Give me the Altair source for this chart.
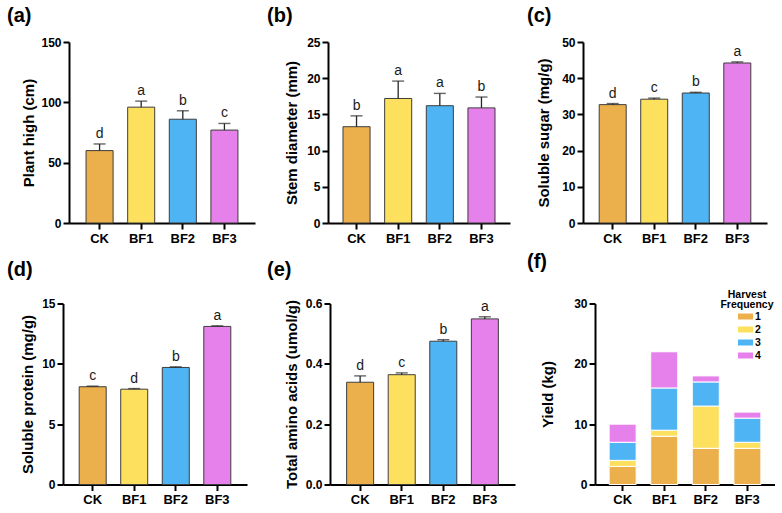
import altair as alt
import pandas as pd

FONT = "Liberation Sans"

groups = ["CK", "BF1", "BF2", "BF3"]
colors = ["#EBB04B", "#FDE05D", "#4FB4F3", "#E680EA"]

plant_high = [60.0, 96.0, 86.0, 77.0]
plant_high_err = [5.5, 5.0, 7.0, 5.5]
plant_high_sig = ["d", "a", "b", "c"]

stem_diameter = [13.3, 17.2, 16.2, 15.9]
stem_diameter_err = [1.5, 2.4, 1.7, 1.5]
stem_diameter_sig = ["b", "a", "a", "b"]

soluble_sugar = [32.7, 34.2, 35.9, 44.2]
soluble_sugar_err = [0.3, 0.3, 0.2, 0.3]
soluble_sugar_sig = ["d", "c", "b", "a"]

soluble_protein = [8.1, 7.9, 9.7, 13.1]
soluble_protein_err = [0.05, 0.05, 0.05, 0.05]
soluble_protein_sig = ["c", "d", "b", "a"]

amino_acids = [0.339, 0.364, 0.475, 0.549]
amino_acids_err = [0.021, 0.006, 0.005, 0.007]
amino_acids_sig = ["d", "c", "b", "a"]

harvest_levels = ["1", "2", "3", "4"]
harvest_title = ["Harvest", "Frequency"]
yield_h1 = [3, 8, 6, 6]
yield_h2 = [1, 1, 7, 1]
yield_h3 = [3, 7, 4, 4]
yield_h4 = [3, 6, 1, 1]

color_scale = alt.Scale(domain=groups, range=colors)


def xenc(po, rng):
    return alt.X(
        "Group:N",
        sort=groups,
        scale=alt.Scale(paddingInner=0.35, paddingOuter=po, range=rng),
        axis=alt.Axis(title=None, labelAngle=0, tickSize=6, labelPadding=3,
                      labelFontSize=13, labelFontWeight="bold", labelFont=FONT,
                      domainWidth=2, tickWidth=2, domainColor="black", tickColor="black",
                      labelColor="black"),
    )


def yaxis(title, ticks, title_x, off, fmt=None):
    kw = dict(title=title, values=ticks, grid=False, tickSize=6, labelPadding=2,
              labelFontSize=12, labelFontWeight="bold", labelFont=FONT, labelColor="black",
              titleFontSize=15, titleFontWeight="bold", titleFont=FONT, titleColor="black",
              domainWidth=2, tickWidth=2, domainColor="black", tickColor="black",
              titleX=title_x, titleBaseline="middle", labelOverlap=False, offset=off)
    if fmt:
        kw["format"] = fmt
    return alt.Axis(**kw)


def panel_title(label, dx, toff):
    return alt.TitleParams(text=label, anchor="start", frame="group", dx=dx,
                           fontSize=20, fontWeight="bold", font=FONT,
                           baseline="bottom", offset=toff, color="black")


def bar_panel(values, errs, sig, title, domain, ticks, width, rng, po, label, dx,
              title_x, toff, fmt=None):
    df = pd.DataFrame({
        "Group": groups,
        "Value": values,
        "Upper": [v + e for v, e in zip(values, errs)],
        "Sig": sig,
    })
    yscale = alt.Scale(domain=domain, nice=False, zero=True)
    ax = yaxis(title, ticks, title_x, -rng[0], fmt)
    x = xenc(po, rng)
    base = alt.Chart(df)
    bars = base.mark_bar(stroke="#3d3d3d", strokeWidth=1).encode(
        x=x,
        y=alt.Y("Value:Q", scale=yscale, axis=ax),
        color=alt.Color("Group:N", scale=color_scale, legend=None),
    )
    stem = base.mark_rule(color="#262626", strokeWidth=1.3).encode(
        x=x, y=alt.Y("Value:Q", scale=yscale, axis=ax), y2="Upper:Q"
    )
    cap = base.mark_tick(color="#262626", thickness=1.4, size=12).encode(
        x=x, y=alt.Y("Upper:Q", scale=yscale, axis=ax)
    )
    txt = base.mark_text(baseline="bottom", dy=-3, fontSize=14, font=FONT,
                         color="#1a1a1a").encode(
        x=x, y=alt.Y("Upper:Q", scale=yscale, axis=ax), text="Sig:N"
    )
    return alt.layer(bars, stem, cap, txt).properties(
        width=width, height=181, title=panel_title(label, dx, toff),
    )


# column origins: 63, 328, 583 (plot left edges of d, b, c)
pa = bar_panel(plant_high, plant_high_err, plant_high_sig, "Plant high (cm)",
               [0, 150], [0, 50, 100, 150], 192, [6, 192], 0.41, "(a)", -56, -41, -10)
pb = bar_panel(stem_diameter, stem_diameter_err, stem_diameter_sig, "Stem diameter (mm)",
               [0, 25], [0, 5, 10, 15, 20, 25], 182, [0, 182], 0.36, "(b)", -61, -37, -10)
pc = bar_panel(soluble_sugar, soluble_sugar_err, soluble_sugar_sig, "Soluble sugar (mg/g)",
               [0, 50], [0, 10, 20, 30, 40, 50], 184, [0, 184], 0.39, "(c)", -56, -39.5, -10)
pd_ = bar_panel(soluble_protein, soluble_protein_err, soluble_protein_sig,
                "Soluble protein (mg/g)", [0, 15], [0, 5, 10, 15], 184, [0, 184], 0.39,
                "(d)", -56, -35.5, -2)
pe = bar_panel(amino_acids, amino_acids_err, amino_acids_sig, "Total amino acids (umol/g)",
               [0, 0.6], [0, 0.2, 0.4, 0.6], 182, [2, 187], 0.40, "(e)", -61, -39, -2,
               fmt=".1f")

# stacked yield panel
rows = []
for i, g in enumerate(groups):
    for h, vals in zip(harvest_levels, [yield_h1, yield_h2, yield_h3, yield_h4]):
        rows.append({"Group": g, "Harvest": h, "Yield": vals[i]})
ydf = pd.DataFrame(rows)

stack = alt.Chart(ydf).mark_bar(stroke="white", strokeWidth=1).encode(
    x=xenc(0.34, [12, 192]),
    y=alt.Y("Yield:Q", stack="zero", scale=alt.Scale(domain=[0, 30], nice=False),
            axis=yaxis("Yield (kg)", [0, 10, 20, 30], -47.5, -12)),
    color=alt.Color("Harvest:N", scale=alt.Scale(domain=harvest_levels, range=colors),
                    legend=alt.Legend(
                        title=None, orient="none",
                        legendX=155, legendY=5.5, padding=0,
                        labelFontSize=10.5, labelFontWeight="bold", labelFont=FONT,
                        labelColor="black", labelOffset=2,
                        symbolType="M-1,-0.4H1V0.4H-1Z", symbolSize=225,
                        symbolStrokeWidth=0, rowPadding=-4.2)),
    order=alt.Order("Harvest:N", sort="ascending"),
)

legend_title = alt.Chart(pd.DataFrame({"t": [0]})).mark_text(
    text=harvest_title, font=FONT, fontSize=10.5, fontWeight="bold", color="black",
    align="center", baseline="alphabetic", lineHeight=10.5,
).encode(x=alt.value(164), y=alt.value(-6))

pf = alt.layer(stack, legend_title).properties(
    width=192, height=181, title=panel_title("(f)", -56, -2),
)

chart = alt.concat(pa, pb, pc, pd_, pe, pf, columns=3, bounds="flush",
                   spacing={"row": 80.5, "column": 73}).resolve_scale(
    color="independent"
).resolve_legend(color="independent").properties(
    padding={"left": 7, "top": 6, "right": 0, "bottom": 0},
    background="white",
).configure_view(stroke=None)

chart.save("out.html", embed_options={"renderer": "svg", "actions": False})
